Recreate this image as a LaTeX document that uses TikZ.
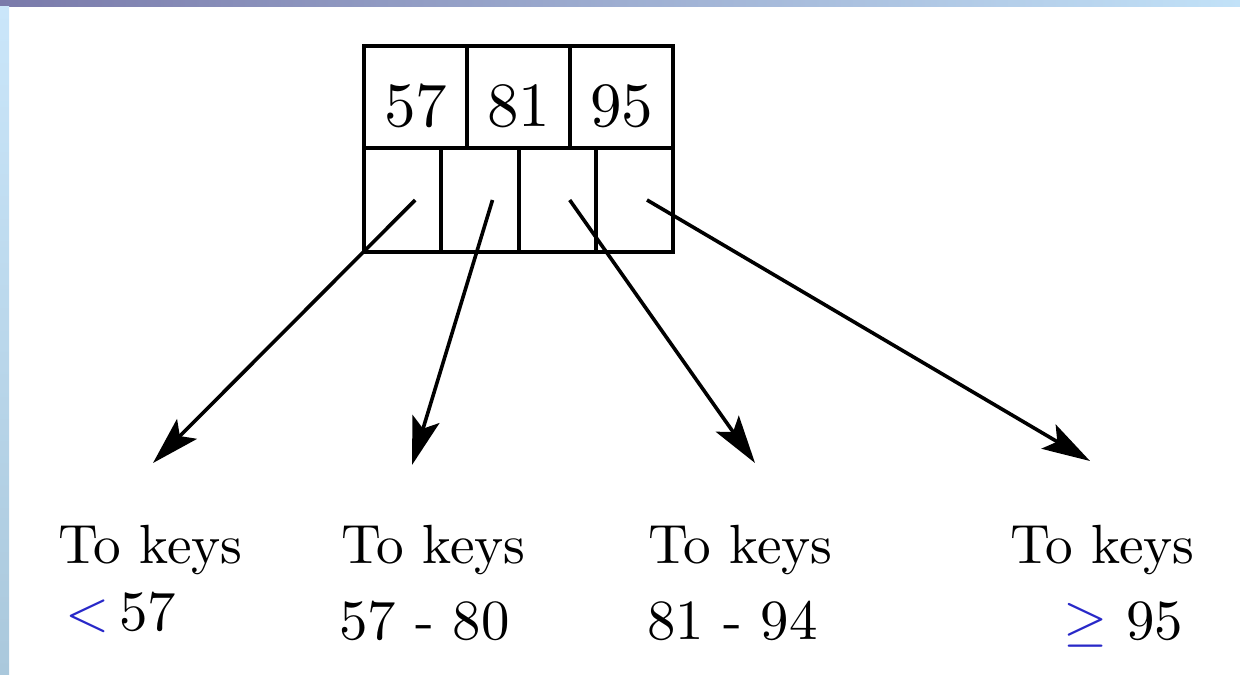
\documentclass[tikz,border=0pt]{standalone}
\usepackage{graphicx}
\usetikzlibrary{arrows.meta,shadings}

\definecolor{symblue}{RGB}{40,40,200}
\definecolor{barleft}{RGB}{122,122,170}
\definecolor{barright}{RGB}{194,226,248}
\definecolor{sidetop}{RGB}{202,230,250}
\definecolor{sidebot}{RGB}{170,200,220}

% 10pt design size, blown up like the original
\newcommand{\keynum}[1]{\scalebox{3.15}{#1}}
\newcommand{\keylbl}[1]{\scalebox{2.76}{#1}}
\newcommand{\keyrng}[1]{\scalebox{2.84}{#1}}

\tikzset{
  keycell/.style={draw, line width=2pt, inner sep=0pt, outer sep=0pt,
    minimum width=51.5pt, minimum height=51pt, text height=30pt},
  ptrcell/.style={draw, line width=2pt, inner sep=0pt, outer sep=0pt,
    minimum width=38.6pt, minimum height=52pt},
  ptr/.style={line width=1.8pt, -{Stealth[length=24pt,width=14pt,inset=5pt]}},
  keytext/.style={anchor=base west, inner sep=0pt}
}

\begin{document}
\begin{tikzpicture}[x=0.5pt,y=0.5pt,yscale=-1,xscale=1]
\useasboundingbox (0,0) rectangle (1240,674);

%Shape: slide bars
\shade [left color=barleft, right color=barright] (0,0) rectangle (1240,7);
\shade [top color=sidetop, bottom color=sidebot] (0,7) rectangle (9,674);

%Shape: key row
\node [keycell] (k1) at (415.5,97) {\keynum{57}};
\node [keycell] (k2) at (518.5,97) {\keynum{81}};
\node [keycell] (k3) at (621.5,97) {\keynum{95}};
%Shape: pointer row
\node [ptrcell] (p1) at (402.6,200) {};
\node [ptrcell] (p2) at (479.9,200) {};
\node [ptrcell] (p3) at (557.1,200) {};
\node [ptrcell] (p4) at (634.4,200) {};

%arrow ends
\coordinate (e1) at (153,463);
\coordinate (e2) at (412,465);
\coordinate (e3) at (755,463);
\coordinate (e4) at (1090,461);

%Straight Lines
\draw [ptr] ([xshift=6.3pt]p1.center) -- (e1);
\draw [ptr] ([xshift=6.3pt]p2.center) -- (e2);
\draw [ptr] ([xshift=6.3pt]p3.center) -- (e3);
\draw [ptr] ([xshift=6.3pt]p4.center) -- (e4);

% Text Node
\node [keytext] (t1) at (58,563) {\keylbl{To keys}};
\node [keytext] (r1) at (65,630) {\keyrng{\textcolor{symblue}{$<$}\,57}};
% Text Node
\node [keytext] (t2) at (341,563) {\keylbl{To keys}};
\node [keytext] (r2) at (339,639) {\keyrng{57 - 80}};
% Text Node
\node [keytext] (t3) at (648,563) {\keylbl{To keys}};
\node [keytext] (r3) at (647,639) {\keyrng{81 - 94}};
% Text Node
\node [keytext] (t4) at (1010,563) {\keylbl{To keys}};
\node [keytext] (r4) at (1063,639) {\keyrng{\textcolor{symblue}{$\geq$}\,\,95}};

\end{tikzpicture}
\end{document}
